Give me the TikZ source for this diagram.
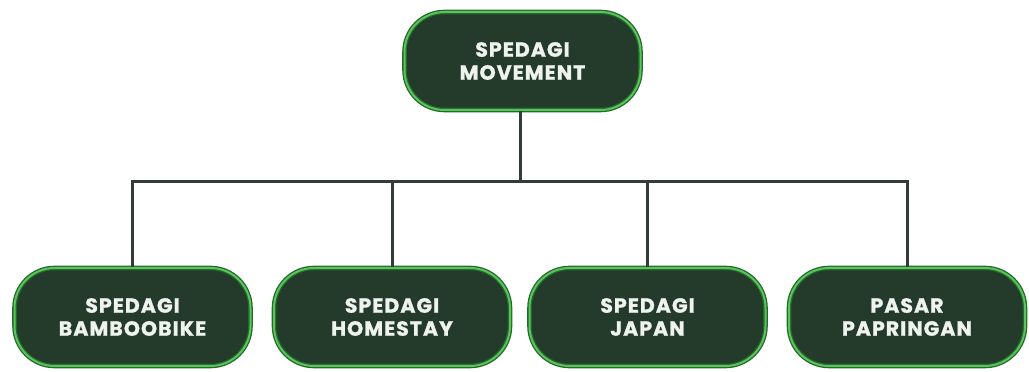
\documentclass[tikz,border=0pt]{standalone}
\usepackage{fontspec}
\setmainfont{Poppins}[UprightFont=* Bold, BoldFont=* Bold, LetterSpace=5, FakeBold=1.2]
\definecolor{boxfill}{HTML}{243A2B}
\definecolor{boxedge}{HTML}{1F6B28}
\definecolor{boxlight}{HTML}{5FC060}
\definecolor{linkc}{HTML}{333C37}
\definecolor{txt}{HTML}{EEF3EE}
\begin{document}
\begin{tikzpicture}[x=1pt,y=1pt,
  orgbox/.style={rectangle, rounded corners=40pt, minimum width=236pt, minimum height=98pt,
    fill=boxfill, draw=boxedge, double=boxlight, double distance=2pt, line width=1.3pt,
    text=txt, align=center, font=\fontsize{20.5}{23}\selectfont, inner sep=0pt},
  link/.style={draw=linkc, line width=3pt}]
\useasboundingbox (0,0) rectangle (1029,372);
\node[orgbox] (top) at (522.5,311) {SPEDAGI\\MOVEMENT};
\node[orgbox] (a) at (132.5,55) {SPEDAGI\\BAMBOOBIKE};
\node[orgbox] (b) at (392,55) {SPEDAGI\\HOMESTAY};
\node[orgbox] (c) at (647.5,55) {SPEDAGI\\JAPAN};
\node[orgbox] (d) at (907,55) {PASAR\\PAPRINGAN};
\coordinate (bus) at (520,190);
\draw[link] (top.south -| bus) -- (bus);
\draw[link] (a.north) |- (bus) -| (d.north);
\draw[link] (b.north) -- (b.north |- bus);
\draw[link] (c.north) -- (c.north |- bus);
\end{tikzpicture}
\end{document}
